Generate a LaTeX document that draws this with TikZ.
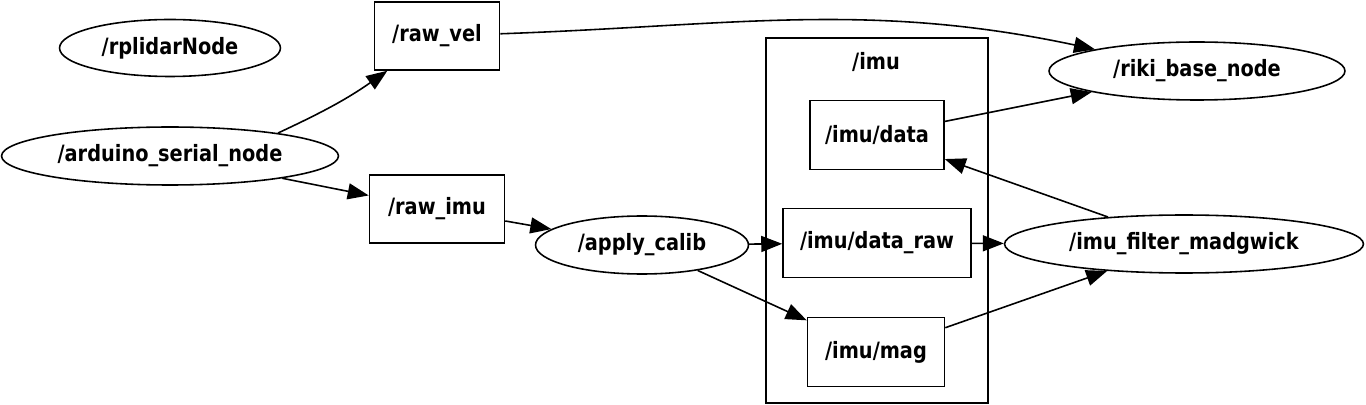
\documentclass[tikz,border=0pt]{standalone}
\usepackage{fontspec}
\setmainfont{DejaVu Sans}[FakeStretch=0.86]
\usetikzlibrary{shapes.geometric,arrows.meta}
\begin{document}
\begin{tikzpicture}[
    x=0.02cm, y=-0.02cm,
    every node/.style={draw, line width=0.9pt, inner sep=0pt, font=\bfseries\fontsize{12.8}{15}\selectfont},
    rosnode/.style={ellipse, minimum height=1.16cm},
    topic/.style={rectangle, minimum height=1.38cm},
    edge/.style={draw, line width=0.9pt, -{Triangle[length=0.42cm, width=0.32cm]}}
]
    \useasboundingbox (0,0) rectangle (1366,405);
    % namespace box
    \draw[line width=0.9pt] (766,38) rectangle (988,403);
    \node[draw=none] (imuns) at (876,62) {/imu};
    % nodes
    \node[rosnode, minimum width=4.42cm, minimum height=1.14cm] (rplidar) at (170,48) {/rplidarNode};
    \node[rosnode, minimum width=6.74cm] (arduino) at (170,156) {/arduino\_serial\_node};
    \node[rosnode, minimum width=4.26cm] (calib) at (642,245) {/apply\_calib};
    \node[rosnode, minimum width=5.92cm] (riki) at (1197,71) {/riki\_base\_node};
    \node[rosnode, minimum width=7.18cm] (madgwick) at (1184,244) {/imu\_filter\_madgwick};
    % topics
    \node[topic, minimum width=2.5cm, minimum height=1.36cm] (rawvel) at (437,36) {/raw\_vel};
    \node[topic, minimum width=2.7cm, minimum height=1.36cm] (rawimu) at (437,209) {/raw\_imu};
    \node[topic, minimum width=2.68cm] (imudata) at (877,135) {/imu/data};
    \node[topic, minimum width=3.76cm] (imuraw) at (877,243) {/imu/data\_raw};
    \node[topic, minimum width=2.74cm] (imumag) at (876,352) {/imu/mag};
    % connections
    \draw[edge] (arduino.12) to[out=25, in=215] (rawvel);
    \draw[edge] (rawvel) to[out=2, in=168] (riki);
    \draw[edge] (arduino) -- (rawimu);
    \draw[edge] (rawimu) -- (calib);
    \draw[edge] (calib) -- (imuraw);
    \draw[edge] (calib) -- (imumag);
    \draw[edge] (imudata) -- (riki);
    \draw[edge] (imuraw) -- (madgwick);
    \draw[edge] (madgwick) -- (imudata);
    \draw[edge] (imumag) -- (madgwick);
\end{tikzpicture}
\end{document}
